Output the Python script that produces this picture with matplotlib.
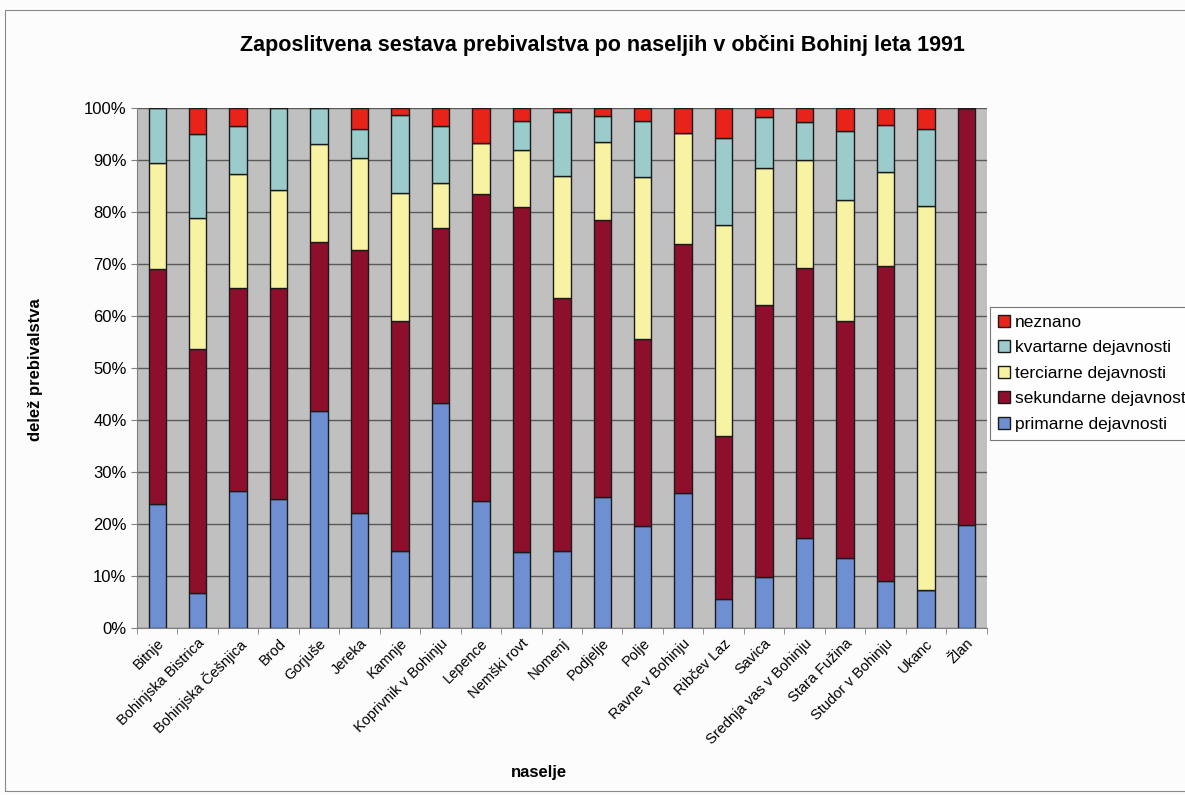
import numpy as np
import matplotlib
matplotlib.use("Agg")
import matplotlib.pyplot as plt
from matplotlib.patches import Rectangle

plt.rcParams['font.family'] = ['Liberation Sans', 'DejaVu Sans']

# naselja
naselja = ["Bitnje", "Bohinjska Bistrica", "Bohinjska Češnjica", "Brod", "Gorjuše",
           "Jereka", "Kamnje", "Koprivnik v Bohinju", "Lepence", "Nemški rovt",
           "Nomenj", "Podjelje", "Polje", "Ravne v Bohinju", "Ribčev Laz",
           "Savica", "Srednja vas v Bohinju", "Stara Fužina", "Studor v Bohinju",
           "Ukanc", "Žlan"]

# deleži (%) odčitani s slike
primarne = [23.9, 6.7, 26.3, 24.9, 41.7, 22.2, 14.9, 43.2, 24.5, 14.7,
            14.8, 25.3, 19.7, 25.9, 5.5, 9.9, 17.4, 13.4, 9.1, 7.4, 19.9]
sekundarne = [45.1, 47.0, 39.1, 40.5, 32.6, 50.6, 44.1, 33.7, 59.0, 66.3,
              48.7, 53.2, 35.8, 47.9, 31.5, 52.3, 51.9, 45.6, 60.6, 0.0, 80.1]
terciarne = [20.5, 25.1, 21.9, 18.9, 18.8, 17.7, 24.7, 8.7, 9.7, 11.0,
             23.4, 15.0, 31.3, 21.5, 40.5, 26.3, 20.7, 23.3, 18.1, 73.8, 0.0]
kvartarne = [10.5, 16.3, 9.3, 15.7, 6.9, 5.5, 15.0, 10.9, 0.0, 5.5,
             12.3, 5.0, 10.7, 0.0, 16.7, 9.8, 7.4, 13.3, 8.9, 14.7, 0.0]
neznano = [0.0, 4.9, 3.4, 0.0, 0.0, 4.0, 1.3, 3.5, 6.8, 2.5,
           0.8, 1.5, 2.5, 4.7, 5.8, 1.7, 2.6, 4.4, 3.3, 4.1, 0.0]

serije = [("primarne dejavnosti", primarne, "#6f8fd3"),
          ("sekundarne dejavnosti", sekundarne, "#8e0f2c"),
          ("terciarne dejavnosti", terciarne, "#f7f3a3"),
          ("kvartarne dejavnosti", kvartarne, "#9bcbcb"),
          ("neznano", neznano, "#e8231a")]

fig = plt.figure(figsize=(11.85, 7.95), dpi=100, facecolor="#fcfcfc")
ax = fig.add_axes([0.1156, 0.21, 0.717, 0.654])
ax.set_facecolor("#c0c0c0")

x = np.arange(len(naselja))
dno = np.zeros(len(naselja))
for ime, vrednosti, barva in serije:
    v = np.array(vrednosti)
    ax.bar(x, v, bottom=dno, width=0.43, color=barva, edgecolor="#1a1a1a",
           linewidth=1.0, label=ime, zorder=3)
    dno = dno + v

ax.set_xlim(-0.5, len(naselja) - 0.5)
ax.set_ylim(0, 100)
ax.set_yticks(np.arange(0, 101, 10))
ax.set_yticklabels([f"{t}%" for t in range(0, 101, 10)], fontsize=12)
ax.yaxis.grid(True, color="#5a5a5a", linewidth=1.0, zorder=1)
ax.set_axisbelow(True)

ax.set_xticks(x)
ax.set_xticklabels(naselja, rotation=45, ha="right", rotation_mode="anchor", fontsize=10.5)
ax.tick_params(axis="x", length=0, pad=6)
ax.set_xticks(np.arange(-0.5, len(naselja), 1), minor=True)
ax.tick_params(axis="x", which="minor", length=4, color="#808080")
ax.tick_params(axis="y", length=4, color="#808080")

for s in ["top", "right"]:
    ax.spines[s].set_visible(False)
for s in ["left", "bottom"]:
    ax.spines[s].set_color("#808080")

fig.text(0.508, 0.943, "Zaposlitvena sestava prebivalstva po naseljih v občini Bohinj leta 1991",
         ha="center", va="center", fontsize=15.5, fontweight="bold")
fig.text(0.03, 0.535, "delež prebivalstva", rotation=90, ha="center", va="center",
         fontsize=12, fontweight="bold")
fig.text(0.455, 0.028, "naselje", ha="center", va="center", fontsize=12, fontweight="bold")

h, l = ax.get_legend_handles_labels()
leg = fig.legend(h[::-1], l[::-1], loc="upper left", bbox_to_anchor=(0.828, 0.625),
                 fontsize=12.5, frameon=True, fancybox=False, edgecolor="#555555",
                 handlelength=0.7, handleheight=0.7, handletextpad=0.3,
                 labelspacing=0.6, borderpad=0.45)
leg.get_frame().set_linewidth(0.8)

fig.patches.append(Rectangle((0.004, 0.005), 1.2, 0.982, transform=fig.transFigure,
                             fill=False, edgecolor="#888888", linewidth=0.8))

fig.savefig("out.png", dpi=100, facecolor=fig.get_facecolor())
